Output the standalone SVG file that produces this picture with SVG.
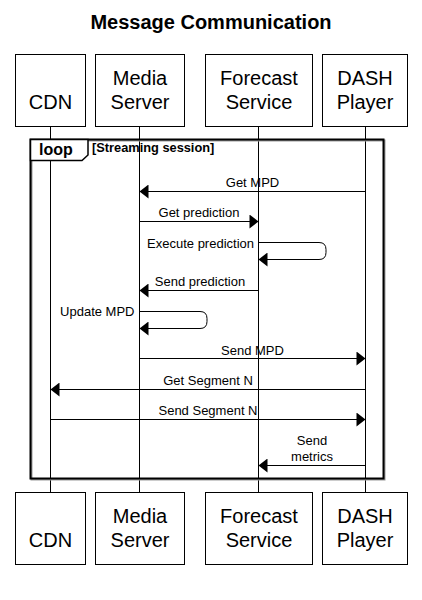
<svg xmlns="http://www.w3.org/2000/svg" width="422" height="600" viewBox="0 0 422 600">
<defs>
<style>
.box{fill:#fff;stroke:#000;stroke-width:1}
.lbl{font-family:"Liberation Sans",Arial,sans-serif;font-size:20px;fill:#000;text-anchor:middle}
.msg{font-family:"Liberation Sans",Arial,sans-serif;font-size:13px;fill:#000;text-anchor:middle}
.msg.end{text-anchor:end}
.ln{fill:none;stroke:#000;stroke-width:1}
.life{stroke:#000;stroke-width:1}
</style>
<marker id="ah" markerUnits="userSpaceOnUse" markerWidth="10" markerHeight="14" refX="9" refY="7" orient="auto" viewBox="0 0 9 14">
<path d="M0,0 L9,7 L0,14 z" fill="#000"/>
</marker>
</defs>
<rect width="422" height="600" fill="#fff"/>
<text x="211" y="29" font-family="'Liberation Sans',Arial,sans-serif" font-size="20" font-weight="bold" text-anchor="middle">Message Communication</text>

<g id="lifelines">
<line class="life" x1="50.5" y1="126" x2="50.5" y2="492.5"/>
<line class="life" x1="139.5" y1="126" x2="139.5" y2="492.5"/>
<line class="life" x1="258.5" y1="126" x2="258.5" y2="492.5"/>
<line class="life" x1="365.5" y1="126" x2="365.5" y2="492.5"/>
</g>

<g id="loop">
<rect x="31.5" y="140.5" width="353" height="339" fill="none" stroke="#999" stroke-width="2"/>
<rect x="30.5" y="139.5" width="353" height="339" fill="none" stroke="#000" stroke-width="2"/>
<path d="M30.5,139.5 H88 V155 L82,160.5 H30.5 Z" fill="#fff" stroke="#000" stroke-width="1.5"/>
<text x="39" y="155" font-family="'Liberation Sans',Arial,sans-serif" font-size="16" font-weight="bold">loop</text>
<text x="92" y="152" font-family="'Liberation Sans',Arial,sans-serif" font-size="12.8" font-weight="bold">[Streaming session]</text>
</g>

<g id="CDN">
<rect class="box" x="15.5" y="54.5" width="70" height="72"/>
<text class="lbl" x="50.5" y="109">CDN</text>
</g>
<g id="MediaServer">
<rect class="box" x="95.5" y="54.5" width="89" height="72"/>
<text class="lbl" x="140" y="85">Media</text>
<text class="lbl" x="140" y="109">Server</text>
</g>
<g id="ForecastService">
<rect class="box" x="205.5" y="54.5" width="107" height="72"/>
<text class="lbl" x="259" y="85">Forecast</text>
<text class="lbl" x="259" y="109">Service</text>
</g>
<g id="DASHPlayer">
<rect class="box" x="322.5" y="54.5" width="85" height="72"/>
<text class="lbl" x="365" y="85">DASH</text>
<text class="lbl" x="365" y="109">Player</text>
</g>

<g id="CDN-bottom">
<rect class="box" x="15.5" y="492.5" width="70" height="72"/>
<text class="lbl" x="50.5" y="547">CDN</text>
</g>
<g id="MediaServer-bottom">
<rect class="box" x="95.5" y="492.5" width="89" height="72"/>
<text class="lbl" x="140" y="523">Media</text>
<text class="lbl" x="140" y="547">Server</text>
</g>
<g id="ForecastService-bottom">
<rect class="box" x="205.5" y="492.5" width="107" height="72"/>
<text class="lbl" x="259" y="523">Forecast</text>
<text class="lbl" x="259" y="547">Service</text>
</g>
<g id="DASHPlayer-bottom">
<rect class="box" x="322.5" y="492.5" width="85" height="72"/>
<text class="lbl" x="365" y="523">DASH</text>
<text class="lbl" x="365" y="547">Player</text>
</g>

<g id="connectors">
<path class="ln" d="M365.5,191.5 H139.5" marker-end="url(#ah)"/>
<text class="msg" x="252.5" y="187">Get MPD</text>

<path class="ln" d="M139.5,221.5 H258.5" marker-end="url(#ah)"/>
<text class="msg" x="199" y="217">Get prediction</text>

<path class="ln" d="M258.5,242.5 H319 Q326,242.5 326,249.5 V252.5 Q326,259.5 319,259.5 H258.5" marker-end="url(#ah)"/>
<text class="msg end" x="254" y="247.5">Execute prediction</text>

<path class="ln" d="M258.5,290.5 H139.5" marker-end="url(#ah)"/>
<text class="msg" x="200" y="285.5">Send prediction</text>

<path class="ln" d="M139.5,311.5 H200 Q207,311.5 207,318.5 V321.5 Q207,328.5 200,328.5 H139.5" marker-end="url(#ah)"/>
<text class="msg end" x="134.5" y="316">Update MPD</text>

<path class="ln" d="M139.5,358.5 H365.5" marker-end="url(#ah)"/>
<text class="msg" x="252.5" y="354.5">Send MPD</text>

<path class="ln" d="M365.5,389.5 H50.5" marker-end="url(#ah)"/>
<text class="msg" x="208" y="384.5">Get Segment N</text>

<path class="ln" d="M50.5,419.5 H365.5" marker-end="url(#ah)"/>
<text class="msg" x="208" y="415">Send Segment N</text>

<path class="ln" d="M365.5,465.5 H258.5" marker-end="url(#ah)"/>
<text class="msg" x="312" y="445">Send</text>
<text class="msg" x="312" y="461">metrics</text>
</g>
</svg>
